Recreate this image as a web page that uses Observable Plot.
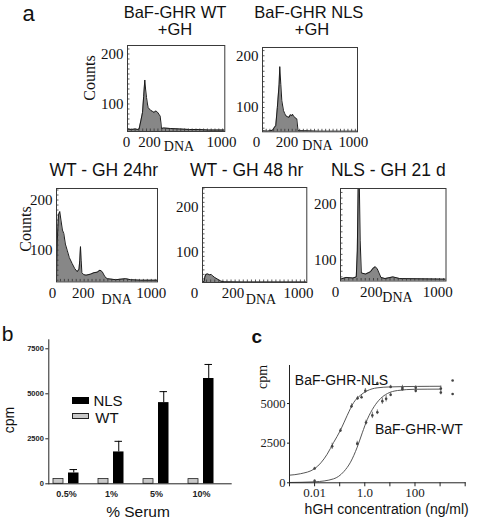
<!DOCTYPE html>
<html>
<head>
<meta charset="utf-8">
<script src="https://cdn.jsdelivr.net/npm/d3@7"></script>
<script src="https://cdn.jsdelivr.net/npm/@observablehq/plot@0.6"></script>
<style>
  html, body { margin: 0; padding: 0; background: #fff; }
  #fig { position: relative; width: 490px; height: 526px; overflow: hidden; background: #fff; }
  .lbl { position: absolute; white-space: nowrap; line-height: 1; color: #111; }
</style>
</head>
<body>
<div id="fig"></div>
<script>
// ---------------- DATA ----------------
// Panel a: DNA content histograms, [DNA channel, counts]
const histWtGH = [[0,50],[40,49],[80,50],[110,49],[122,50],[140,66],[158,83],[170,115],[182,148],[190,130],[200,113],[210,100],[217,93],[230,90],[245,87],[265,85],[280,83],[295,86],[308,85],[322,82],[335,78],[343,76],[352,62],[357,51],[380,52],[450,51],[550,50],[650,49],[750,49],[850,48],[1023,48]];
const histNlsGH = [[0,55],[50,54],[108,56],[130,62],[143,65],[160,100],[179,145],[186,179],[197,145],[208,113],[226,94],[240,88],[251,84],[270,82],[286,81],[300,86],[315,84],[323,87],[335,83],[348,81],[360,79],[369,78],[383,55],[450,55],[600,54],[800,54],[1023,54]];
const histWt24 = [[0,40],[8,120],[20,170],[33,177],[45,160],[60,140],[74,133],[90,112],[108,100],[130,85],[159,73],[185,63],[210,57],[228,62],[236,80],[243,107],[250,80],[257,55],[276,51],[300,50],[344,52],[380,55],[412,56],[440,60],[463,57],[490,47],[513,43],[600,41],[699,43],[750,41],[850,40],[1023,40]];
const histWt48 = [[0,33],[15,34],[23,44],[32,50],[50,51],[70,49],[85,50],[98,47],[120,43],[150,39],[180,35],[212,33.5],[400,33],[1023,33]];
const histNls21 = [[0,66],[54,69],[120,68],[153,70],[163,116],[172,240],[182,240],[191,134],[202,77],[243,75],[290,79],[319,86],[338,88],[357,84],[392,69],[432,67],[508,70],[574,67],[1023,66]];
const histYTicks = [100, 200];
const histXTicks = [0, 200, 1000];

// Panel b: thymidine incorporation vs % serum
const serum = ["0.5%", "1%", "5%", "10%"];
const nlsCpm = [600, 1770, 4510, 5850];
const nlsErr = [190, 590, 610, 780];
const wtCpm = [270, 270, 260, 260];
const serumCpmTicks = [0, 2500, 5000, 7500];

// Panel c: dose response to hGH
const nlsConc = [0.01, 0.05, 0.107, 0.295, 0.513, 0.741, 1.05, 3.16, 10.7, 31.6, 107, 1070, 3160];
const nlsPts  = [900, 2300, 3300, 4830, 5330, 5400, 5800, 6270, 6050, 6000, 6000, 5950, 6450];
const nlsPtErr = [80, 200, 120, 150, 120, 100, 150, 80, 100, 150, 120, 150, 0];
const wtConc = [0.01, 0.5, 1.12, 2.0, 3.16, 5.0, 7.08, 10.7, 31.6, 107, 1070, 3160];
const wtPts  = [120, 2470, 3800, 4250, 4450, 5150, 5300, 5550, 5900, 5800, 5700, 5600];
const wtPtErr = [60, 150, 150, 200, 150, 200, 200, 120, 100, 120, 150, 0];
const nlsFitConc = [0.001, 0.0027, 0.01, 0.0316, 0.0575, 0.107, 0.2, 0.363, 0.676, 1.23, 3.09, 10.7, 123, 1070];
const nlsFitCpm  = [480, 570, 890, 1800, 2550, 3310, 4260, 5070, 5525, 5800, 5990, 6050, 6080, 6090];
const wtFitConc = [0.001, 0.01, 0.0575, 0.145, 0.27, 0.5, 0.794, 1.26, 2.34, 4.27, 7.94, 20, 100, 1070];
const wtFitCpm  = [20, 60, 250, 700, 1300, 2250, 3150, 4000, 4800, 5320, 5630, 5820, 5900, 5910];
const hghTicks = [0.001, 0.01, 0.1, 1, 10, 100, 1000, 10000];
const hghTickLabels = ["", "0.01", "", "1.0", "", "100", "", ""];
const doseCpmTicks = [0, 2500, 5000];

// ---------------- LAYOUT HELPERS ----------------
const fig = document.getElementById("fig");
const plain = d => String(d);
function put(el, left, top) {
  el.style.position = "absolute";
  el.style.left = left + "px";
  el.style.top = top + "px";
  fig.appendChild(el);
}
function label(text, cx, cy, o = {}) {
  const d = document.createElement("div");
  d.className = "lbl";
  d.textContent = text;
  d.style.left = cx + "px";
  d.style.top = cy + "px";
  d.style.fontFamily = o.serif ? "'Liberation Serif', 'Times New Roman', serif" : "'Liberation Sans', Arial, sans-serif";
  d.style.fontSize = (o.size || 14) + "px";
  if (o.bold) d.style.fontWeight = "bold";
  d.style.transform = "translate(-50%,-50%)" + (o.rotate ? " rotate(-90deg)" : "");
  fig.appendChild(d);
}
function swatch(x, y, w, h, fill, stroke) {
  const d = document.createElement("div");
  d.style.position = "absolute";
  d.style.left = x + "px"; d.style.top = y + "px";
  d.style.width = w + "px"; d.style.height = h + "px";
  d.style.background = fill;
  d.style.boxSizing = "border-box";
  if (stroke) d.style.border = "1px solid " + stroke;
  fig.appendChild(d);
}

// ---------------- PANEL a ----------------
function hist(data, f) {
  const ml = 40, mr = 24, mt = 4, mb = 26;
  const fw = f.R - f.L, fh = f.B - f.T;
  const minorY = d3.range(Math.ceil(f.ydom[0] / 10) * 10, f.ydom[1], 10);
  const minorX = d3.range(0, 1024, 40);
  const ax = (v, dx) => Plot.axisX([v], {tickSize: 0, tickPadding: 5, dx, tickFormat: plain, label: null});
  const p = Plot.plot({
    width: ml + fw + mr, height: mt + fh + mb,
    marginLeft: ml, marginRight: mr, marginTop: mt, marginBottom: mb,
    style: {fontFamily: "'Liberation Serif', 'Times New Roman', serif", fontSize: "15px", background: "none", color: "#111", overflow: "visible"},
    x: {domain: [0, 1023]},
    y: {domain: f.ydom},
    marks: [
      Plot.areaY(data, {x: d => d[0], y: d => d[1], fill: "#878787", clip: true}),
      Plot.lineY(data, {x: d => d[0], y: d => d[1], stroke: "#1a1a1a", strokeWidth: 1, clip: true}),
      Plot.tickY(minorY, {y: d => d, insetRight: fw - 2.5, stroke: "#333", strokeWidth: 0.8}),
      Plot.tickX(minorX, {x: d => d, insetTop: fh - 2.5, stroke: "#333", strokeWidth: 0.8}),
      Plot.frame({stroke: "#3a3a3a"}),
      Plot.axisY(histYTicks, {tickSize: 0, tickPadding: 4, tickFormat: plain, label: null}),
      ax(histXTicks[0], f.dx[0]),
      ax(histXTicks[1], f.dx[1]),
      ax(histXTicks[2], f.dx[2])
    ]
  });
  put(p, f.L - ml, f.T - mt);
}

hist(histWtGH,  {L: 126.7, R: 224,   T: 45,    B: 131,   ydom: [45, 217],   dx: [-1, 3, -1]});
hist(histNlsGH, {L: 261.7, R: 356.7, T: 46.7,  B: 131,   ydom: [53, 216],   dx: [-6, 6, -2]});
hist(histWt24,  {L: 56,    R: 157,   T: 188.3, B: 281.7, ydom: [36.6, 223], dx: [-4, 7, -4]});
hist(histWt48,  {L: 201.7, R: 306,   T: 187.3, B: 282.3, ydom: [32, 243],   dx: [-8, 10, -6]});
hist(histNls21, {L: 339.5, R: 445,   T: 187.5, B: 280,   ydom: [62.7, 227], dx: [-5, 10, -6]});

label("a", 28.5, 14, {size: 22});
label("BaF-GHR WT", 175, 11.5, {size: 16.5});
label("+GH", 175, 28.8, {size: 16.5});
label("BaF-GHR NLS", 308.8, 11.5, {size: 16.5});
label("+GH", 312, 28.8, {size: 16.5});
label("WT - GH 24hr", 103.8, 170.8, {size: 17.5});
label("WT - GH 48 hr", 246.7, 170.8, {size: 17.5});
label("NLS - GH 21 d", 388.3, 170.8, {size: 17.5});
label("Counts", 90, 77.5, {serif: true, size: 16, rotate: true});
label("Counts", 25.8, 229, {serif: true, size: 16, rotate: true});
label("DNA", 179, 147, {serif: true, size: 14});
label("DNA", 317.5, 146, {serif: true, size: 14});
label("DNA", 116.7, 300, {serif: true, size: 14});
label("DNA", 261, 300, {serif: true, size: 14});
label("DNA", 397.5, 298.3, {serif: true, size: 14});

// ---------------- PANEL b ----------------
const nlsRows = serum.map((s, i) => ({serum: s, cpm: nlsCpm[i], err: nlsErr[i]}));
const wtRows = serum.map((s, i) => ({serum: s, cpm: wtCpm[i]}));
const pb = Plot.plot({
  width: 240, height: 9.3 + 144 + 24,
  marginLeft: 48.3, marginRight: 8.3, marginTop: 9.3, marginBottom: 24,
  style: {fontFamily: "'Liberation Sans', Arial, sans-serif", fontSize: "9px", fontWeight: "bold", background: "none", color: "#222", overflow: "visible"},
  x: {domain: serum, paddingInner: 0.333, paddingOuter: 0.204, align: 0.158},
  y: {domain: [0, 8000]},
  marks: [
    Plot.barY(wtRows, {x: "serum", y: "cpm", fill: "#c8c8c8", stroke: "#222", strokeWidth: 0.8, insetLeft: 2, insetRight: 18}),
    Plot.barY(nlsRows, {x: "serum", y: "cpm", fill: "#000", insetLeft: 17, insetRight: 2.5}),
    Plot.ruleX(nlsRows, {x: "serum", y1: "cpm", y2: d => d.cpm + d.err, dx: 7.25, stroke: "#000", strokeWidth: 1}),
    Plot.tickY(nlsRows, {x: "serum", y: d => d.cpm + d.err, insetLeft: 18.5, insetRight: 4, stroke: "#000", strokeWidth: 1}),
    Plot.ruleY([0], {stroke: "#222"}),
    Plot.frame({anchor: "left", stroke: "#222"}),
    Plot.axisY(serumCpmTicks, {tickSize: 3, tickPadding: 2, fontSize: 7.5, tickFormat: plain, label: null}),
    Plot.axisX({tickSize: 0, tickPadding: 7, label: null})
  ]
});
put(pb, 0, 330);

label("b", 7.5, 332.7, {size: 21});
label("cpm", 8.5, 420, {size: 14, rotate: true});
label("% Serum", 138, 511.7, {size: 15.5});
swatch(71.7, 396.7, 17.6, 7, "#000");
swatch(71.7, 413.3, 17.6, 6.2, "#c8c8c8", "#222");
label("NLS", 108, 399.5, {size: 15});
label("WT", 107, 417, {size: 15});

// ---------------- PANEL c ----------------
const nlsPtRows = nlsConc.map((c, i) => ({conc: c, cpm: nlsPts[i], err: nlsPtErr[i]}));
const wtPtRows = wtConc.map((c, i) => ({conc: c, cpm: wtPts[i], err: wtPtErr[i]}));
const ptRows = nlsPtRows.concat(wtPtRows);
const nlsFit = nlsFitConc.map((c, i) => ({conc: c, cpm: nlsFitCpm[i]}));
const wtFit = wtFitConc.map((c, i) => ({conc: c, cpm: wtFitCpm[i]}));
const pc = Plot.plot({
  width: 40 + 175.7 + 6, height: 5 + 117.3 + 22,
  marginLeft: 40, marginRight: 6, marginTop: 5, marginBottom: 22,
  style: {fontFamily: "'Liberation Serif', 'Times New Roman', serif", fontSize: "13px", background: "none", color: "#222", overflow: "visible"},
  x: {type: "log", domain: [0.001, 10000]},
  y: {domain: [0, 7400]},
  marks: [
    Plot.line(nlsFit, {x: "conc", y: "cpm", stroke: "#555", strokeWidth: 1, curve: "monotone-x"}),
    Plot.line(wtFit, {x: "conc", y: "cpm", stroke: "#555", strokeWidth: 1, curve: "monotone-x"}),
    Plot.ruleX(ptRows.filter(d => d.err > 0), {x: "conc", y1: d => d.cpm - d.err, y2: d => d.cpm + d.err, stroke: "#555", strokeWidth: 0.8}),
    Plot.dot(ptRows, {x: "conc", y: "cpm", r: 1.3, fill: "#444"}),
    Plot.frame({anchor: "left", stroke: "#222"}),
    Plot.frame({anchor: "bottom", stroke: "#222"}),
    Plot.axisX(hghTicks, {tickSize: 4, tickPadding: 1, tickFormat: d => hghTickLabels[hghTicks.indexOf(d)], label: null}),
    Plot.axisY(doseCpmTicks, {tickSize: 2, tickPadding: 2, fontSize: 12.5, tickFormat: plain, label: null})
  ]
});
put(pc, 289.3 - 40, 365 - 5);

label("c", 256.7, 336.1, {size: 19, bold: true});
label("cpm", 263, 377, {serif: true, size: 14, rotate: true});
label("BaF-GHR-NLS", 341.5, 380, {size: 14});
label("BaF-GHR-WT", 418.9, 429.3, {size: 14});
label("hGH concentration (ng/ml)", 386.7, 508.5, {size: 14});
</script>
</body>
</html>
